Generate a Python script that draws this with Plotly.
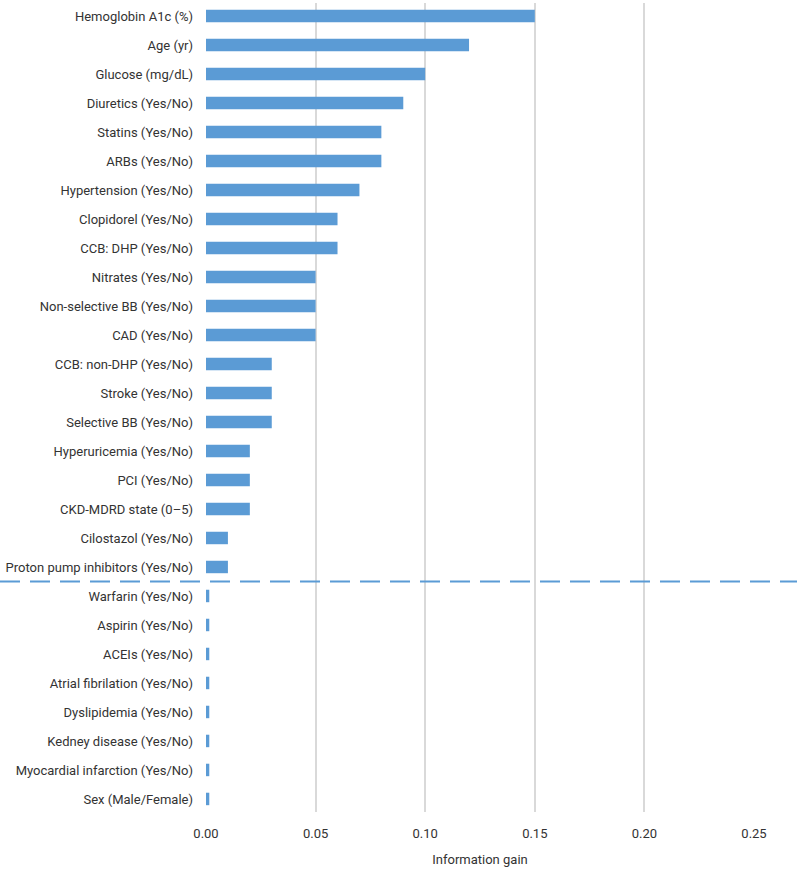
import plotly.graph_objects as go

categories = [
    "Hemoglobin A1c (%)", "Age (yr)", "Glucose (mg/dL)", "Diuretics (Yes/No)",
    "Statins (Yes/No)", "ARBs (Yes/No)", "Hypertension (Yes/No)", "Clopidorel (Yes/No)",
    "CCB: DHP (Yes/No)", "Nitrates (Yes/No)", "Non-selective BB (Yes/No)", "CAD (Yes/No)",
    "CCB: non-DHP (Yes/No)", "Stroke (Yes/No)", "Selective BB (Yes/No)",
    "Hyperuricemia (Yes/No)", "PCI (Yes/No)", "CKD-MDRD state (0\u20135)",
    "Cilostazol (Yes/No)", "Proton pump inhibitors (Yes/No)",
    "Warfarin (Yes/No)", "Aspirin (Yes/No)", "ACEIs (Yes/No)", "Atrial fibrilation (Yes/No)",
    "Dyslipidemia (Yes/No)", "Kedney disease (Yes/No)", "Myocardial infarction (Yes/No)",
    "Sex (Male/Female)",
]
values = [
    0.15, 0.12, 0.10, 0.09, 0.08, 0.08, 0.07, 0.06, 0.06, 0.05, 0.05, 0.05,
    0.03, 0.03, 0.03, 0.02, 0.02, 0.02, 0.01, 0.01,
    0.0015, 0.0015, 0.0015, 0.0015, 0.0015, 0.0015, 0.0015, 0.0015,
]
tick_vals = [0.0, 0.05, 0.10, 0.15, 0.20, 0.25]
tick_text = ["0.00", "0.05", "0.10", "0.15", "0.20", "0.25"]

FONT = "Roboto, sans-serif"
BLUE = "#5B9BD5"
TXT = "#333333"

fig = go.Figure()
fig.add_trace(go.Bar(
    x=values, y=categories, orientation="h",
    marker=dict(color=BLUE, line=dict(width=0)),
    width=0.43,
))

fig.update_layout(
    width=797, height=869,
    margin=dict(l=206, r=43, t=3, b=57),
    paper_bgcolor="white", plot_bgcolor="white",
    showlegend=False,
    font=dict(family=FONT, size=13, color=TXT),
    xaxis=dict(
        range=[0, 0.25], tickvals=tick_vals, ticktext=tick_text,
        showgrid=True, gridcolor="#D9D9D9", gridwidth=2,
        zeroline=True, zerolinecolor="white", zerolinewidth=2,
        showline=False, ticks="", automargin=False,
        ticklabelstandoff=12,
        tickfont=dict(family=FONT, size=13, color=TXT),
        title=dict(text="Information gain", font=dict(family=FONT, size=13, color=TXT), standoff=14),
    ),
    yaxis=dict(
        type="category", categoryorder="array", categoryarray=categories,
        range=[27.45, -0.45],
        showgrid=False, zeroline=False, showline=False, ticks="",
        automargin=False, ticklabelstandoff=12,
        tickfont=dict(family=FONT, size=13, color=TXT),
    ),
)

fig.add_shape(
    type="line", xref="paper", yref="y",
    x0=-206 / 548, x1=1 + 43 / 548, y0=19.5, y1=19.5,
    line=dict(color=BLUE, width=2, dash="20px,10px"),
)

fig.write_html("out.html", config={"displayModeBar": False},
               post_script="document.body.style.margin='0';")
